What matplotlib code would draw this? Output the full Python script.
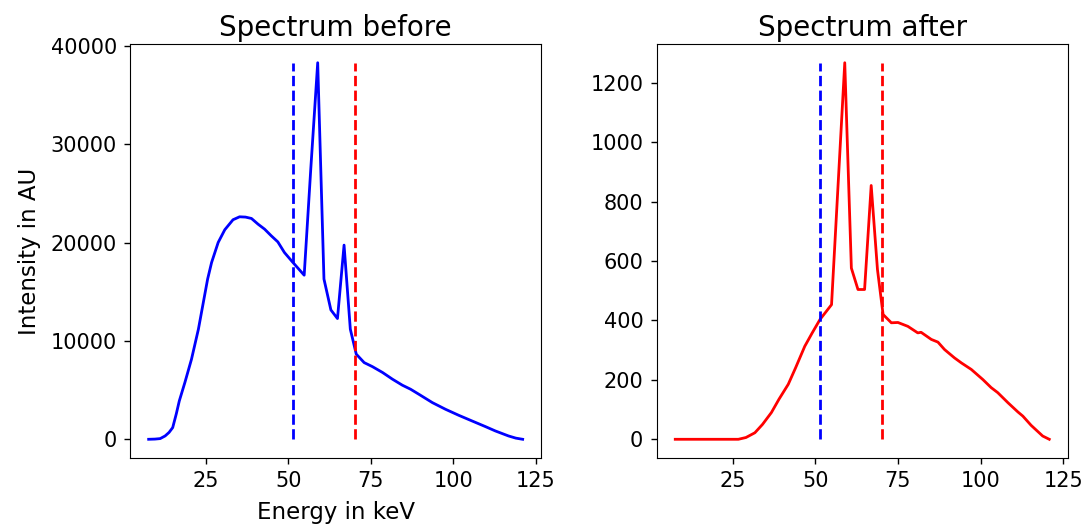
import matplotlib
matplotlib.use("Agg")
import matplotlib.pyplot as plt

# Spectrum before filtering
energy_before = [7.6, 9.5, 11.1, 12.6, 13.8, 14.9, 16.0, 16.9, 18.6, 20.6, 22.7,
                 24.4, 25.5, 26.7, 28.7, 30.7, 33.2, 35.2, 37.0, 38.8, 40.8,
                 42.8, 44.8, 46.8, 48.8, 51.4, 54.8, 56.8, 58.9, 60.8, 62.9,
                 64.9, 66.9, 68.8, 70.6, 73.0, 75.5, 78.6, 81.6, 84.6, 87.1,
                 89.6, 93.7, 97.7, 101.7, 105.7, 109.8, 112.8, 116.8, 119.0,
                 121.1]
intensity_before = [0, 20, 70, 340, 700, 1190, 2600, 3900, 5780, 8140, 11200,
                    14300, 16300, 17980, 20020, 21310, 22330, 22630, 22600,
                    22460, 21880, 21370, 20700, 20080, 19000, 17980, 16690,
                    27500, 38300, 16300, 13160, 12280, 19750, 11200, 8660, 7800,
                    7390, 6790, 6110, 5500, 5090, 4580, 3730, 3050, 2440, 1870,
                    1290, 850, 340, 120, 0]

# Spectrum after filtering
energy_after = [7.6, 26.7, 29.0, 31.7, 34.0, 36.7, 39.0, 41.8, 44.0, 46.8,
                49.0, 51.4, 54.9, 58.9, 60.9, 62.9, 64.9, 66.9, 68.8, 70.5,
                73.0, 75.0, 78.0, 81.0, 82.0, 85.1, 87.1, 89.1, 92.1, 94.2,
                97.2, 100.7, 103.2, 105.2, 108.3, 111.3, 112.8, 115.3, 118.8,
                120.8]
intensity_after = [0, 0, 6, 22, 50, 90, 135, 185, 240, 313, 357, 403, 453,
                   1267, 576, 504, 504, 854, 571, 420, 392, 393, 380, 358, 360,
                   336, 327, 302, 274, 257, 235, 201, 174, 157, 123, 92, 78, 47,
                   11, 0]

# energy window
e_low = 51.4
e_high = 70.2

fig, (ax1, ax2) = plt.subplots(1, 2, figsize=(10.92, 5.29), dpi=100)
plt.subplots_adjust(left=0.119, right=0.978, bottom=0.134, top=0.917, wspace=0.28)

ax1.plot(energy_before, intensity_before, color="blue", linewidth=2)
ax1.vlines(e_low, 0, max(intensity_before), colors="blue", linestyles="--", linewidth=2)
ax1.vlines(e_high, 0, max(intensity_before), colors="red", linestyles="--", linewidth=2)
ax1.set_title("Spectrum before", fontsize=20)
ax1.set_xlabel("Energy in keV", fontsize=16.5, labelpad=7)
ax1.set_ylabel("Intensity in AU", fontsize=16.5, labelpad=7)
ax1.set_yticks([0, 10000, 20000, 30000, 40000])

ax2.plot(energy_after, intensity_after, color="red", linewidth=2)
ax2.vlines(e_low, 0, max(intensity_after), colors="blue", linestyles="--", linewidth=2)
ax2.vlines(e_high, 0, max(intensity_after), colors="red", linestyles="--", linewidth=2)
ax2.set_title("Spectrum after", fontsize=20)
ax2.set_yticks([0, 200, 400, 600, 800, 1000, 1200])

for ax in (ax1, ax2):
    ax.set_xticks([25, 50, 75, 100, 125])
    ax.tick_params(labelsize=15, length=4.5, pad=5, width=1)

plt.savefig("out.png", dpi=100)
